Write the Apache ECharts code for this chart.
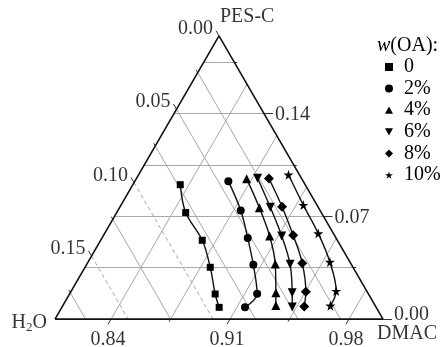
<!DOCTYPE html>
<html><head><meta charset="utf-8">
<script src="https://cdn.jsdelivr.net/npm/echarts@6/dist/echarts.min.js"></script>
<style>html,body{margin:0;padding:0;background:#fff}#c{width:441px;height:347px}</style>
</head><body><div id="c"></div>
<script>
// ---- data (mass fractions) ----
const seriesNames = ['0', '2%', '4%', '6%', '8%', '10%'];
const h2o_0  = [0.0735, 0.0798, 0.0795, 0.0840, 0.0902, 0.0924];
const pes_0  = [0.0916, 0.0726, 0.0537, 0.0353, 0.0171, 0.0080];
const h2o_2  = [0.0440, 0.0467, 0.0520, 0.0578, 0.0654, 0.0772];
const pes_2  = [0.0940, 0.0740, 0.0552, 0.0370, 0.0173, 0.0080];
const h2o_4  = [0.0324, 0.0348, 0.0384, 0.0446, 0.0541, 0.0584];
const pes_4  = [0.0957, 0.0759, 0.0566, 0.0376, 0.0179, 0.0093];
const h2o_6  = [0.0258, 0.0282, 0.0313, 0.0360, 0.0445, 0.0493];
const pes_6  = [0.0960, 0.0762, 0.0566, 0.0373, 0.0179, 0.0082];
const h2o_8  = [0.0192, 0.0211, 0.0243, 0.0285, 0.0361, 0.0421];
const pes_8  = [0.0958, 0.0766, 0.0571, 0.0380, 0.0186, 0.0085];
const h2o_10 = [0.0064, 0.0080, 0.0089, 0.0118, 0.0180, 0.0264];
const pes_10 = [0.0984, 0.0777, 0.0584, 0.0389, 0.0191, 0.0091];

// ---- axes (ternary) ----
const leftTickValues   = [0.00, 0.05, 0.10, 0.15];   // H2O
const bottomTickValues = [0.84, 0.91, 0.98];         // DMAC
const rightTickValues  = [0.00, 0.07, 0.14];         // PES-C
const pesGrid  = [0.035, 0.07, 0.105, 0.14, 0.175];
const dmacGrid = [0.84, 0.875, 0.91, 0.945, 0.98];
const h2oGrid  = [0.025, 0.05, 0.075, 0.10, 0.125, 0.15, 0.175];
const h2oDashed = [0.10, 0.15];
const R = 0.193; // span of each component in the zoomed triangle

const SQ = Math.sqrt(3) / 2;
const u = R / 328; // data units per pixel
function toXY(h2o, pes) { const dmac = 1 - h2o - pes; return [dmac + pes / 2, pes * SQ]; }
function shift(p, dxPx, dyPx) { return [p[0] + dxPx * u, p[1] + dyPx * u]; }
const has = (arr, v) => arr.some(a => Math.abs(a - v) < 1e-9);

const FONT = "'Liberation Serif','Times New Roman',serif";
const FS = 20;

const gridSolid = [], gridDashed = [], ticks = [], labels = [];
pesGrid.forEach(p => gridSolid.push({coords: [toXY(R - p, p), toXY(0, p)]}));
dmacGrid.forEach(d => gridSolid.push({coords: [toXY(1 - d, 0), toXY(0, 1 - d)]}));
h2oGrid.forEach(h => (has(h2oDashed, h) ? gridDashed : gridSolid).push({coords: [toXY(h, R - h), toXY(h, 0)]}));

// right axis (PES-C): ticks horizontal outward
const rightAll = Array.from(new Set(pesGrid.concat(rightTickValues)));
rightAll.forEach(p => {
  const e = toXY(0, p); const L = has(rightTickValues, p) ? 9 : 3;
  const t = shift(e, L, 0);
  ticks.push({coords: [e, t]});
  if (has(rightTickValues, p)) labels.push({value: t, label: {formatter: p.toFixed(2), align: 'left', verticalAlign: 'middle', offset: [2, p === 0 ? -4 : 1]}});
});
// bottom axis (DMAC): ticks down-left
const bottomAll = Array.from(new Set(dmacGrid.concat(bottomTickValues)));
bottomAll.forEach(d => {
  const e = toXY(1 - d, 0); const L = has(bottomTickValues, d) ? 6 : 3;
  const t = shift(e, -0.5 * L, -SQ * L);
  ticks.push({coords: [e, t]});
  if (has(bottomTickValues, d)) labels.push({value: t, label: {formatter: d.toFixed(2), align: 'center', verticalAlign: 'middle', offset: [0, 15]}});
});
// left axis (H2O): ticks up-left
const leftAll = Array.from(new Set(h2oGrid.concat(leftTickValues)));
leftAll.forEach(h => {
  const e = toXY(h, R - h); const L = has(leftTickValues, h) ? 6 : 3;
  const t = shift(e, -0.5 * L, SQ * L);
  ticks.push({coords: [e, t]});
  if (has(leftTickValues, h)) labels.push({value: t, label: {formatter: h.toFixed(2), align: 'right', verticalAlign: 'middle', offset: [-3, -2]}});
});
// vertex names
labels.push({value: toXY(0, R), label: {formatter: 'PES-C', align: 'left', verticalAlign: 'middle', offset: [1, -19]}});
labels.push({value: toXY(0, 0), label: {formatter: 'DMAC', align: 'left', verticalAlign: 'middle', offset: [-6, 15]}});
labels.push({value: toXY(R, 0), label: {formatter: '{m|H}{s|2}{m|O}', align: 'right', verticalAlign: 'middle', offset: [-8, 4]}});

const starPath = 'path://M50,0 L61,35 L98,35 L68,57 L79,91 L50,70 L21,91 L32,57 L2,35 L39,35 Z';
const downTri = 'path://M0,0 L10,0 L5,9 Z';
const upTri = 'path://M5,0 L10,9 L0,9 Z';
const diamondPath = 'path://M5,0 L10,5 L5,10 L0,5 Z';
const symbols = ['rect', 'circle', 'triangle', 'triangle', 'diamond', starPath];
const rotates = [0, 0, 0, 180, 0, 0];
const sizes = [7, 8, 9, 9, 10, 10];
const legendIcons = ['rect', 'circle', upTri, downTri, diamondPath, starPath];
const h2oSets = [h2o_0, h2o_2, h2o_4, h2o_6, h2o_8, h2o_10];
const pesSets = [pes_0, pes_2, pes_4, pes_6, pes_8, pes_10];

const dataSeries = seriesNames.map((name, i) => ({
  name, type: 'line', smooth: 0.35, z: 5,
  data: h2oSets[i].map((h, k) => toXY(h, pesSets[i][k])),
  symbol: symbols[i], symbolRotate: rotates[i], symbolSize: sizes[i],
  lineStyle: {color: '#111', width: 1.4},
  itemStyle: {color: '#000', borderWidth: 0},
  emphasis: {disabled: true}
}));

// whole canvas is the plotting grid; triangle occupies x 55..383, y 36..319 px
const chart = echarts.init(document.getElementById('c'), null, {renderer: 'canvas'});
chart.setOption({
  animation: false,
  backgroundColor: '#fff',
  grid: {left: 0, top: 0, width: 441, height: 347},
  xAxis: {type: 'value', min: 1 - R - 55 * u, max: 1 + 58 * u, show: false},
  yAxis: {type: 'value', min: -28 * u, max: R * SQ + 36 * u, show: false},
  title: {
    text: '{i|w}(OA):', left: 372, top: 31,
    textStyle: {fontFamily: FONT, fontSize: FS, fontWeight: 'normal', color: '#000',
      rich: {i: {fontFamily: FONT, fontSize: FS, fontStyle: 'italic', color: '#000'}}}
  },
  legend: {
    orient: 'vertical', left: 380, top: 52, itemWidth: 8, itemHeight: 8, itemGap: 1.6,
    selectedMode: false,
    data: seriesNames.map((n, i) => ({name: n, icon: legendIcons[i]})),
    textStyle: {fontFamily: FONT, fontSize: FS, color: '#000', lineHeight: 20, padding: [0, 0, 0, 6]}
  },
  series: [
    {type: 'lines', coordinateSystem: 'cartesian2d', silent: true, z: 1, data: gridSolid,
      lineStyle: {color: '#a8a8a8', width: 1, opacity: 1}},
    {type: 'lines', coordinateSystem: 'cartesian2d', silent: true, z: 1, data: gridDashed,
      lineStyle: {color: '#a8a8a8', width: 1, opacity: 1, type: [4, 3]}},
    {type: 'lines', coordinateSystem: 'cartesian2d', silent: true, z: 2, data: ticks,
      lineStyle: {color: '#333', width: 1, opacity: 1}},
    {type: 'line', silent: true, z: 3, symbol: 'none',
      data: [toXY(R, 0), toXY(0, 0), toXY(0, R), toXY(R, 0)],
      lineStyle: {color: '#111', width: 1.6}},
    {type: 'scatter', silent: true, z: 4, symbolSize: 0, itemStyle: {color: 'transparent'},
      data: labels,
      label: {show: true, position: 'inside', fontFamily: FONT, fontSize: FS, color: '#000',
        rich: {m: {fontFamily: FONT, fontSize: FS, color: '#000'},
               s: {fontFamily: FONT, fontSize: 13, color: '#000', padding: [8, 0, 0, 0]}}}}
  ].concat(dataSeries)
});
</script></body></html>
